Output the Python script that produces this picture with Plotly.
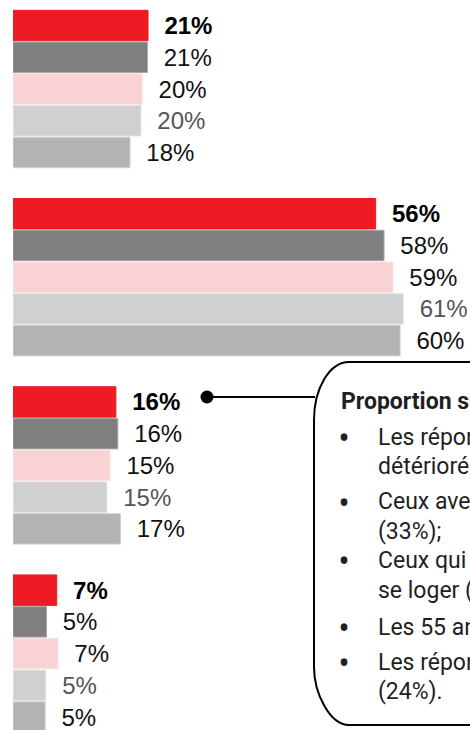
import plotly.graph_objects as go

# ---------------- data ----------------
groups = ["Groupe 1", "Groupe 2", "Groupe 3", "Groupe 4"]
series_names = ["Série 1", "Série 2", "Série 3", "Série 4", "Série 5"]
s1_values = [21.0, 56.4, 16.0, 6.8]
s2_values = [20.9, 57.7, 16.3, 5.2]
s3_values = [20.1, 59.1, 15.1, 7.0]
s4_values = [19.9, 60.7, 14.6, 5.1]
s5_values = [18.2, 60.2, 16.7, 5.0]

box_title = "Proportion supérieure chez :"
box_lines = [
    ("•", "Les répondants dont la situation s'est"),
    ("", "détériorée"),
    ("•", "Ceux avec des difficultés financières"),
    ("", "(33%);"),
    ("•", "Ceux qui ont de la difficulté à"),
    ("", "se loger ("),
    ("•", "Les 55 ans et plus"),
    ("•", "Les répondants de la région"),
    ("", "(24%)."),
]

# ---------------- style ----------------
W, H = 470, 730
ML, MR, MT, MB = 13, 0, 0, 0
PX_PER_UNIT = 6.43
colors = ["#ED1C24", "#7F7F7F", "#F9D2D3", "#D0D0D0", "#B3B3B3"]
text_colors = ["#000000", "#111111", "#111111", "#555555", "#111111"]
bold = [True, False, False, False, False]
line_cols = ["#ED1C24", "#A6A6A6", "#FBE3E3", "#E4E4E4", "#D0D0D0"]

all_values = [s1_values, s2_values, s3_values, s4_values, s5_values]

fig = go.Figure()
for name, vals, col, tcol, b, lc in zip(series_names, all_values, colors, text_colors, bold, line_cols):
    labels = [f"{round(v)}%" for v in vals]
    if b:
        labels = [f"<b>{t}</b>" for t in labels]
    labels = ["\u00a0\u00a0" + t for t in labels]
    fig.add_trace(go.Bar(
        y=groups, x=vals, name=name, orientation="h",
        marker=dict(color=col, line=dict(color=lc, width=1)),
        text=labels, textposition="outside", textangle=0,
        constraintext="none", cliponaxis=False,
        textfont=dict(family="Liberation Sans, Arial, sans-serif", size=24, color=tcol),
        hoverinfo="skip",
    ))

plot_w = W - ML - MR
plot_h = H - MT - MB
band_px = 188.2
top_center_px = 89.0
y_top = -top_center_px / band_px
y_bottom = (plot_h - top_center_px) / band_px


def px(x):
    return (x - ML) / plot_w


def py(y):
    return 1 - (y - MT) / plot_h


# rounded box (left side visible, right side runs off the canvas)
bl, bt, br, bb = 314, 362, 540, 725
rx, ry = 35, 58
k = 0.55
path = (
    f"M {px(bl+rx)},{py(bt)} L {px(br)},{py(bt)} L {px(br)},{py(bb)} L {px(bl+rx)},{py(bb)} "
    f"C {px(bl+rx-k*rx)},{py(bb)} {px(bl)},{py(bb-k*ry)} {px(bl)},{py(bb-ry)} "
    f"L {px(bl)},{py(bt+ry)} "
    f"C {px(bl)},{py(bt+ry-k*ry)} {px(bl+rx-k*rx)},{py(bt)} {px(bl+rx)},{py(bt)} Z"
)
shapes = [
    dict(type="path", xref="paper", yref="paper", path=path,
         fillcolor="white", line=dict(color="black", width=2), layer="above"),
    dict(type="line", xref="paper", yref="paper", x0=px(207), x1=px(315), y0=py(397), y1=py(397),
         line=dict(color="black", width=2)),
    dict(type="circle", xref="paper", yref="paper", x0=px(200.5), x1=px(213.5), y0=py(390.5), y1=py(403.5),
         fillcolor="black", line=dict(color="black", width=0)),
]

box_font = dict(family="Roboto, sans-serif", size=23, color="#1f1f1f")
bullet_font = dict(family="Open Sans, sans-serif", size=32, color="#1f1f1f")
annotations = [
    dict(xref="paper", yref="paper", x=px(339), y=py(402), xanchor="left", yanchor="middle",
         text=f"<b>{box_title}</b>", showarrow=False, font=box_font),
]
line_y = [437, 466, 502, 531, 560, 590, 627, 662, 691]
for (bullet, txt), yy in zip(box_lines, line_y):
    if bullet:
        annotations.append(dict(xref="paper", yref="paper", x=px(344), y=py(yy - 1), xanchor="center",
                                yanchor="middle", text=bullet, showarrow=False, font=bullet_font))
    annotations.append(dict(xref="paper", yref="paper", x=px(376), y=py(yy), xanchor="left",
                            yanchor="middle", text=txt, showarrow=False, font=box_font))

fig.update_layout(
    width=W, height=H,
    margin=dict(l=ML, r=MR, t=MT, b=MB, pad=0),
    paper_bgcolor="white", plot_bgcolor="white",
    barmode="group", bargap=0.157, bargroupgap=0.04,
    showlegend=False,
    xaxis=dict(range=[0, plot_w / PX_PER_UNIT], visible=False, fixedrange=True),
    yaxis=dict(type="category", range=[y_bottom, y_top], visible=False, fixedrange=True),
    shapes=shapes, annotations=annotations,
)

fig.write_html(
    "out.html",
    config={"displayModeBar": False},
    post_script="document.body.style.margin='0px';document.body.style.overflow='hidden';",
)
